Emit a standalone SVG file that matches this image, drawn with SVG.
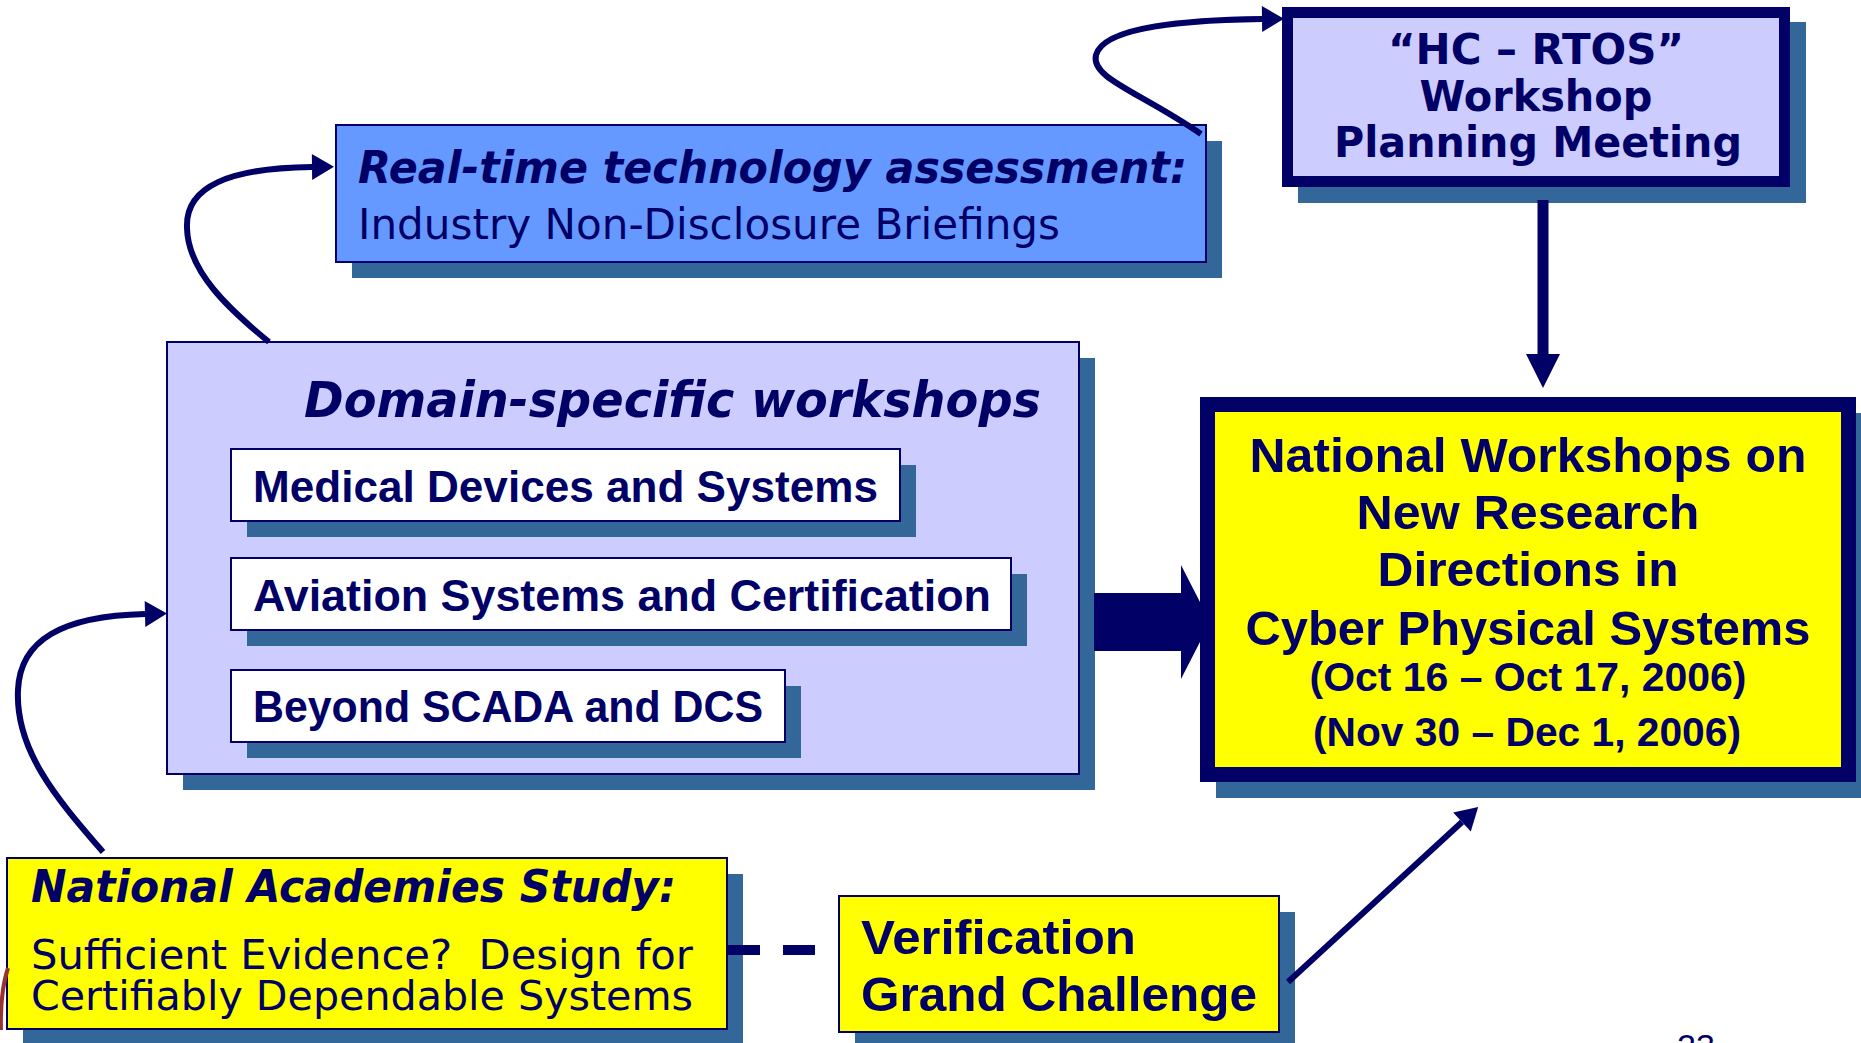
<svg xmlns="http://www.w3.org/2000/svg" width="1861" height="1043" viewBox="0 0 1861 1043">
<defs>
<style>
.shadow{fill:#336699}
.thin{stroke:#000066;stroke-width:2}
text{fill:#000066}
.dj{font-family:"DejaVu Sans",Verdana,sans-serif}
.lb{font-family:"Liberation Sans",Arial,sans-serif}
.b{font-weight:bold}
.i{font-style:italic}
.conn{fill:none;stroke:#000066;stroke-width:6}
</style>
<marker id="ah" markerUnits="userSpaceOnUse" markerWidth="24" markerHeight="26" refX="0" refY="13" orient="auto" overflow="visible"><path d="M0,0 L22,13 L0,26 Z" fill="#000066"/></marker>
</defs>
<rect width="1861" height="1043" fill="#FFFFFF"/>

<g id="hc-rtos">
<rect class="shadow" x="1298" y="22" width="508" height="181"/>
<rect x="1287.5" y="12.5" width="497" height="169" fill="#CCCCFF" stroke="#000066" stroke-width="11"/>
<text class="dj b" x="1536" y="64" font-size="43" text-anchor="middle" textLength="296" lengthAdjust="spacingAndGlyphs">“HC – RTOS”</text>
<text class="dj b" x="1536" y="111" font-size="43" text-anchor="middle" textLength="233" lengthAdjust="spacingAndGlyphs">Workshop</text>
<text class="dj b" x="1538" y="157" font-size="43" text-anchor="middle" textLength="408" lengthAdjust="spacingAndGlyphs">Planning Meeting</text>
</g>

<g id="realtime">
<rect class="shadow" x="352" y="141" width="870" height="137"/>
<rect class="thin" x="336" y="125" width="870" height="137" fill="#6699FF"/>
<text class="dj b i" x="358" y="183" font-size="44" textLength="829" lengthAdjust="spacingAndGlyphs">Real-time technology assessment:</text>
<text class="dj" x="358" y="239" font-size="43" textLength="702" lengthAdjust="spacingAndGlyphs">Industry Non-Disclosure Briefings</text>
</g>

<g id="domain">
<rect class="shadow" x="183" y="358" width="912" height="432"/>
<rect class="thin" x="167" y="342" width="912" height="432" fill="#CCCCFF"/>
<text class="dj b i" x="304" y="417" font-size="49" textLength="737" lengthAdjust="spacingAndGlyphs">Domain-specific workshops</text>
</g>

<g id="medical">
<rect class="shadow" x="247" y="465" width="669" height="72"/>
<rect class="thin" x="231" y="449" width="669" height="72" fill="#FFFFFF"/>
<text class="lb b" x="253" y="502" font-size="44" textLength="625" lengthAdjust="spacingAndGlyphs">Medical Devices and Systems</text>
</g>

<g id="aviation">
<rect class="shadow" x="247" y="574" width="780" height="72"/>
<rect class="thin" x="231" y="558" width="780" height="72" fill="#FFFFFF"/>
<text class="lb b" x="253" y="611" font-size="44" textLength="738" lengthAdjust="spacingAndGlyphs">Aviation Systems and Certification</text>
</g>

<g id="scada">
<rect class="shadow" x="247" y="686" width="554" height="72"/>
<rect class="thin" x="231" y="670" width="554" height="72" fill="#FFFFFF"/>
<text class="lb b" x="253" y="722" font-size="44" textLength="510" lengthAdjust="spacingAndGlyphs">Beyond SCADA and DCS</text>
</g>

<g id="national">
<rect class="shadow" x="1216" y="413" width="660" height="385"/>
<rect x="1207.5" y="404.5" width="641" height="370" fill="#FFFF00" stroke="#000066" stroke-width="15"/>
<text class="lb b" x="1528" y="472" font-size="49" text-anchor="middle" textLength="557" lengthAdjust="spacingAndGlyphs">National Workshops on</text>
<text class="lb b" x="1528" y="529" font-size="49" text-anchor="middle" textLength="343" lengthAdjust="spacingAndGlyphs">New Research</text>
<text class="lb b" x="1528" y="586" font-size="49" text-anchor="middle" textLength="301" lengthAdjust="spacingAndGlyphs">Directions in</text>
<text class="lb b" x="1528" y="645" font-size="49" text-anchor="middle" textLength="565" lengthAdjust="spacingAndGlyphs">Cyber Physical Systems</text>
<text class="lb b" x="1528" y="691" font-size="40" text-anchor="middle" textLength="437" lengthAdjust="spacingAndGlyphs">(Oct 16 – Oct 17, 2006)</text>
<text class="lb b" x="1527" y="746" font-size="40" text-anchor="middle" textLength="428" lengthAdjust="spacingAndGlyphs">(Nov 30 – Dec 1, 2006)</text>
</g>

<g id="academies">
<rect class="shadow" x="23" y="874" width="720" height="171"/>
<rect class="thin" x="7" y="858" width="720" height="171" fill="#FFFF00"/>
<text class="dj b i" x="31" y="902" font-size="44" textLength="645" lengthAdjust="spacingAndGlyphs">National Academies Study:</text>
<text class="dj" x="31" y="969" font-size="41" xml:space="preserve" textLength="662" lengthAdjust="spacingAndGlyphs">Sufficient Evidence?  Design for</text>
<text class="dj" x="31" y="1010" font-size="41" textLength="662" lengthAdjust="spacingAndGlyphs">Certifiably Dependable Systems</text>
</g>

<g id="verification">
<rect class="shadow" x="855" y="912" width="440" height="136"/>
<rect class="thin" x="839" y="896" width="440" height="136" fill="#FFFF00"/>
<text class="lb b" x="861" y="954" font-size="49" textLength="275" lengthAdjust="spacingAndGlyphs">Verification</text>
<text class="lb b" x="861" y="1011" font-size="49" textLength="396" lengthAdjust="spacingAndGlyphs">Grand Challenge</text>
</g>

<g id="connectors">
<path class="conn" d="M269 342 C230 310 188 272 187 228 C185 186 230 168 312 167" marker-end="url(#ah)"/>
<path class="conn" d="M1201 134 C1140 92 1090 78 1096 55 C1104 26 1190 20 1262 19" marker-end="url(#ah)"/>
<path class="conn" d="M103 852 C60 802 15 752 18 690 C20 640 62 616 145 614" marker-end="url(#ah)"/>
<line class="conn" x1="1288" y1="982" x2="1462" y2="822" marker-end="url(#ah)"/>
<line x1="1543" y1="200" x2="1543" y2="356" stroke="#000066" stroke-width="11"/>
<polygon points="1526,354 1560,354 1543,388" fill="#000066"/>
<polygon points="1094,593 1181,593 1181,565 1201,604 1201,640 1181,679 1181,651 1094,651" fill="#000066"/>
<line x1="728" y1="950" x2="817" y2="950" stroke="#000066" stroke-width="10" stroke-dasharray="32 23"/>
</g>

<path d="M8 968 Q0 992 1 1030" fill="none" stroke="#993333" stroke-width="4"/>
<text class="lb" x="1677" y="1058" font-size="34">23</text>
</svg>
